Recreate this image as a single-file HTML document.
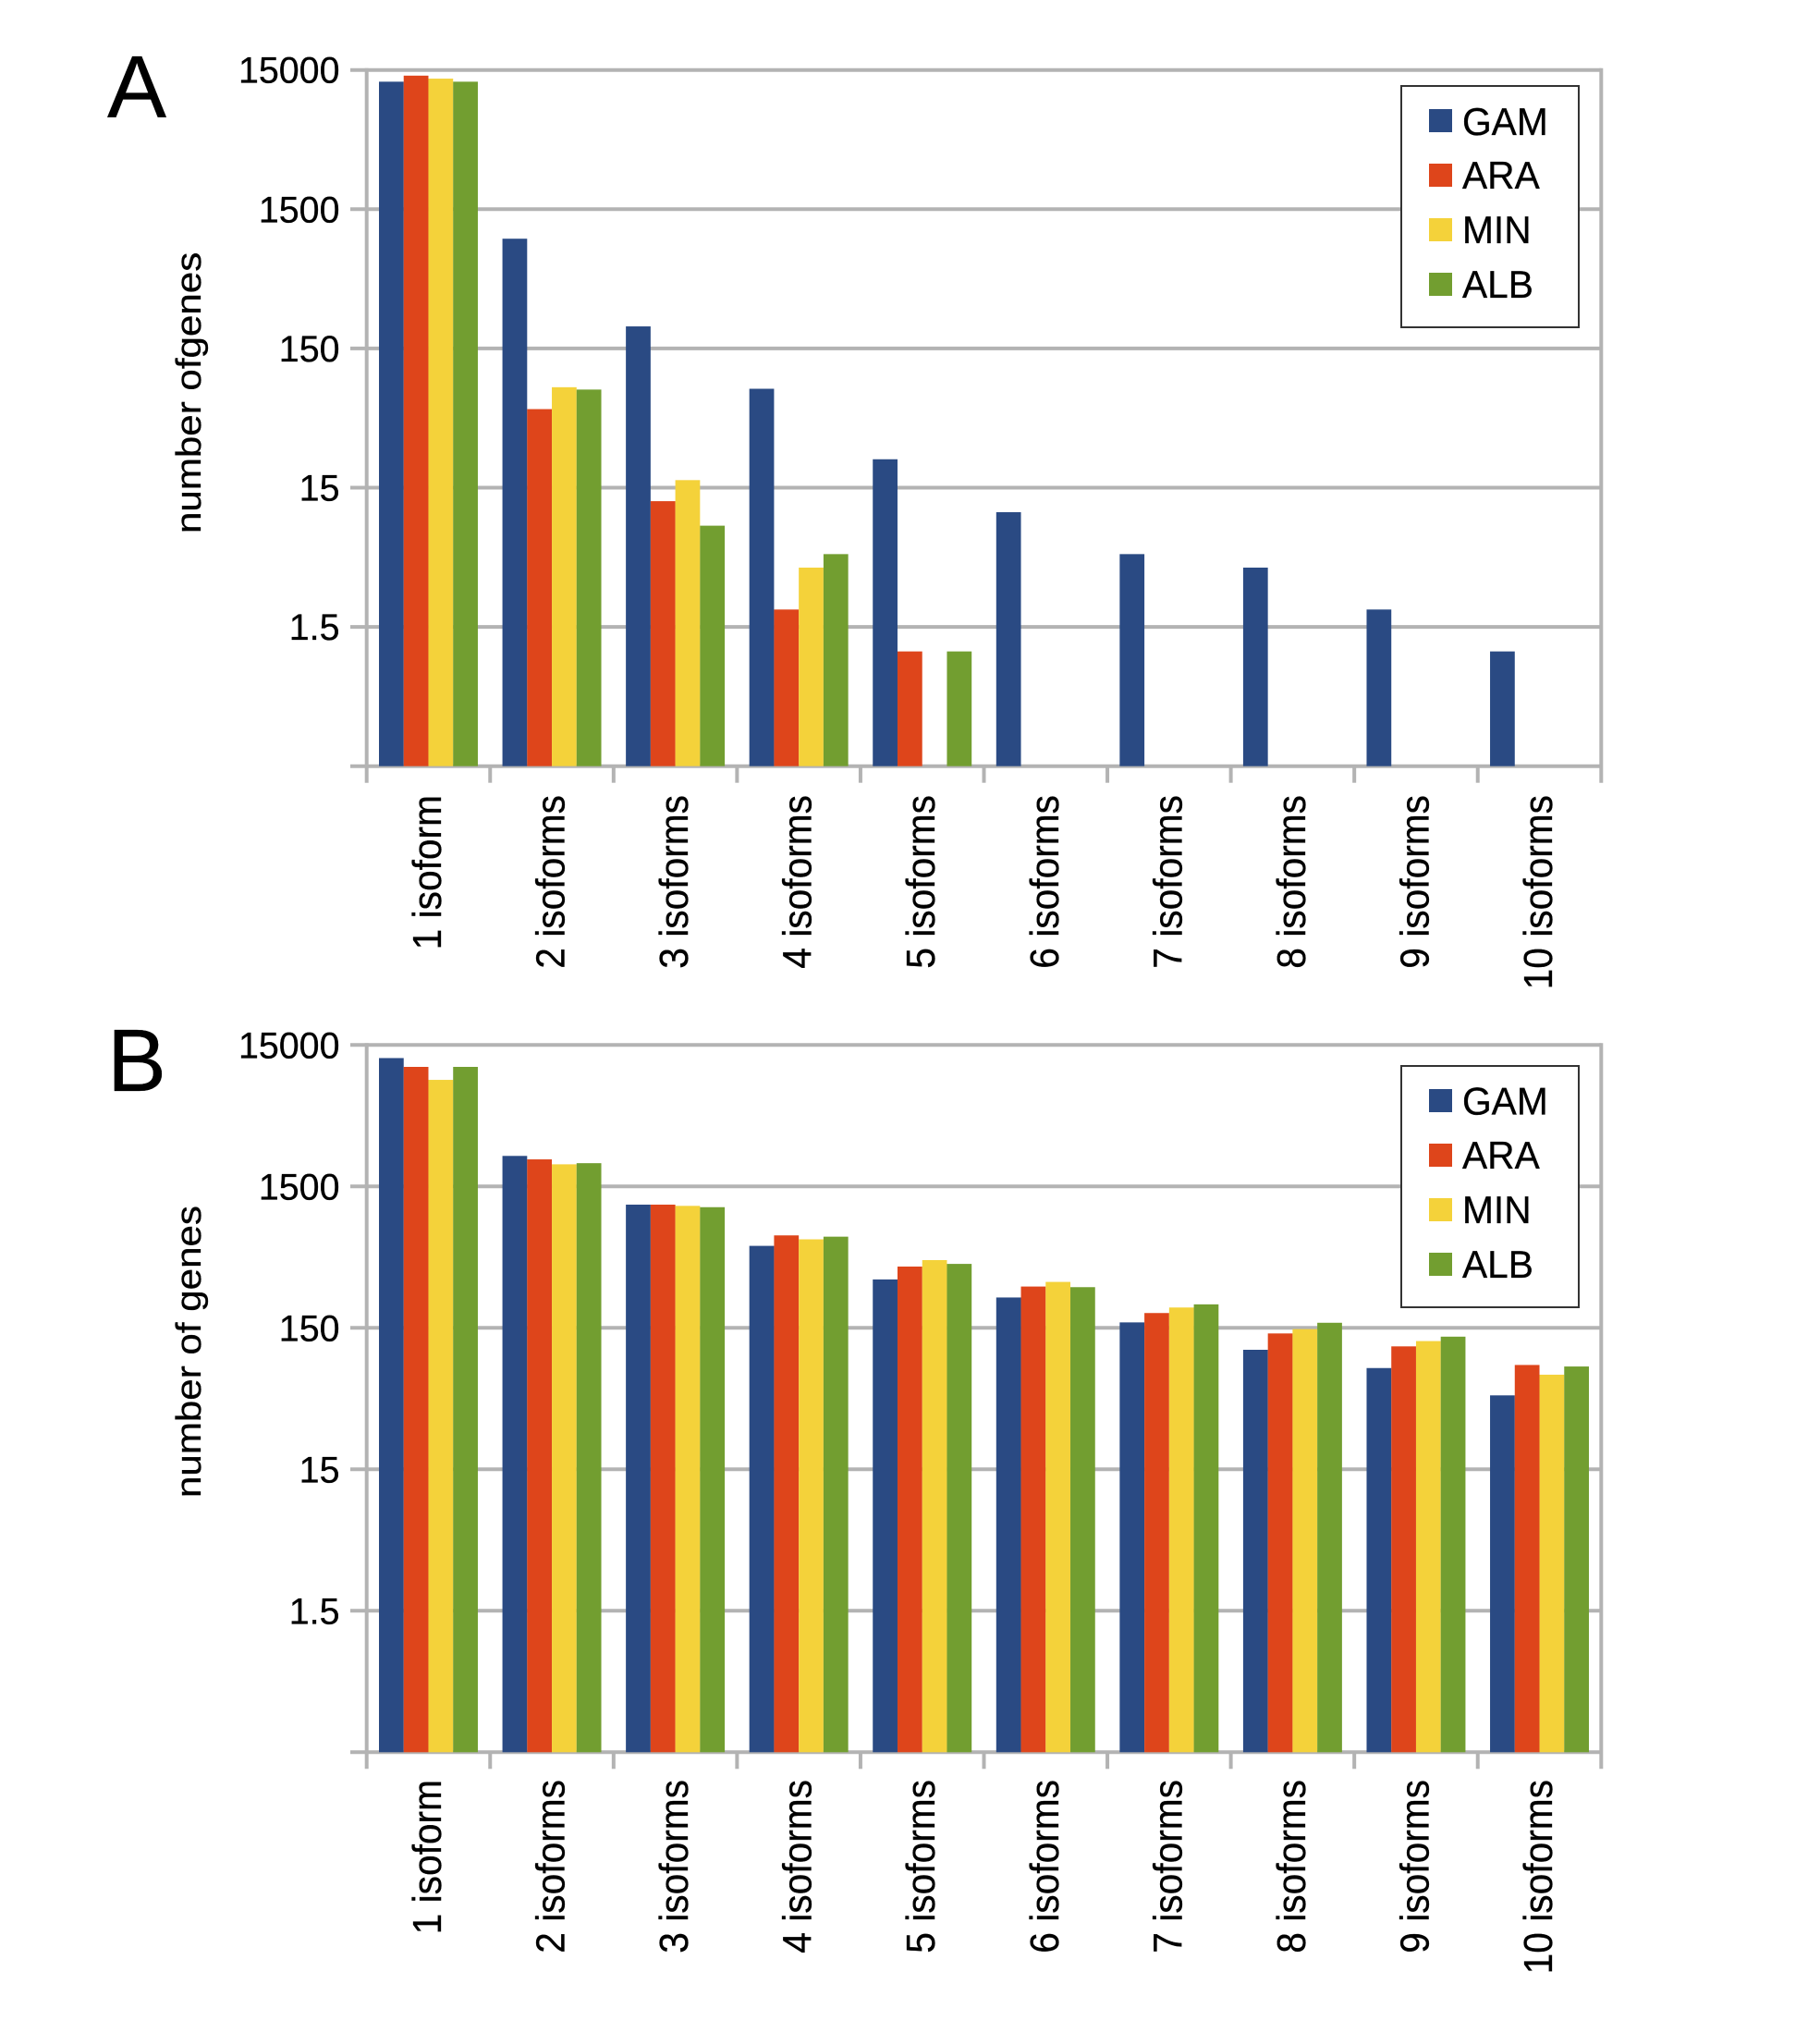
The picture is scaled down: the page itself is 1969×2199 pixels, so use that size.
<!DOCTYPE html>
<html>
<head>
<meta charset="utf-8">
<title>Number of genes per isoform count</title>
<style>
html,body{margin:0;padding:0;background:#fff;}
svg{display:block;}
text{font-family:"Liberation Sans",Arial,sans-serif;fill:#000;stroke:#000;stroke-width:.3px;}
</style>
</head>
<body>
<svg id="figure" xmlns="http://www.w3.org/2000/svg" width="1969" height="2199" viewBox="0 0 1969 2199">
  <rect x="0" y="0" width="1969" height="2199" fill="#ffffff"/>
  <g id="panel-a"></g>
  <g id="panel-b"></g>

  <text x="116" y="127" font-size="96">A</text>
  <text x="116" y="1180" font-size="96">B</text>

  <text transform="translate(217,577) rotate(-90) scale(1.12,1)" font-size="37.6">number ofgenes</text>
  <text transform="translate(217,1620) rotate(-90) scale(1.12,1)" font-size="37.6">number of genes</text>

  <g>
    <rect x="1516" y="93" width="192" height="261" fill="#fff" stroke="#333" stroke-width="2"/>
    <rect x="1546" y="118" width="25" height="25" fill="#2a4a83"/>
    <text transform="translate(1582,146) scale(.97,1)" font-size="42">GAM</text>
    <rect x="1546" y="177" width="25" height="25" fill="#de451b"/>
    <text transform="translate(1582,204) scale(.97,1)" font-size="42">ARA</text>
    <rect x="1546" y="236" width="25" height="25" fill="#f4d23a"/>
    <text transform="translate(1582,263) scale(.97,1)" font-size="42">MIN</text>
    <rect x="1546" y="295" width="25" height="25" fill="#729e30"/>
    <text transform="translate(1582,322) scale(.97,1)" font-size="42">ALB</text>
  </g>

  <g>
    <rect x="1516" y="1153" width="192" height="261" fill="#fff" stroke="#333" stroke-width="2"/>
    <rect x="1546" y="1178" width="25" height="25" fill="#2a4a83"/>
    <text transform="translate(1582,1205.5) scale(.97,1)" font-size="42">GAM</text>
    <rect x="1546" y="1237" width="25" height="25" fill="#de451b"/>
    <text transform="translate(1582,1264) scale(.97,1)" font-size="42">ARA</text>
    <rect x="1546" y="1296" width="25" height="25" fill="#f4d23a"/>
    <text transform="translate(1582,1323) scale(.97,1)" font-size="42">MIN</text>
    <rect x="1546" y="1355" width="25" height="25" fill="#729e30"/>
    <text transform="translate(1582,1382) scale(.97,1)" font-size="42">ALB</text>
  </g>
</svg>

<script>
var categories = ["1 isoform","2 isoforms","3 isoforms","4 isoforms","5 isoforms","6 isoforms","7 isoforms","8 isoforms","9 isoforms","10 isoforms"];
var seriesNames = ["gam","ara","min","alb"];
var tickValues = [15000,1500,150,15,1.5];
var tickLabels = ["15000","1500","150","15","1.5"];
var axisMin = 0.15;
var axisMax = 15000;

var gamA = [12360,921,216,77,24,10,5,4,2,1];
var araA = [13660,55,12,2,1,0,0,0,0,0];
var minA = [13000,79,17,4,0,0,0,0,0,0];
var albA = [12360,76,8,5,1,0,0,0,0,0];

var gamB = [12120,2465,1115,570,330,246,164,105,78,50];
var araB = [10500,2330,1115,676,407,294,191,137,111,82];
var minB = [8500,2150,1093,634,452,317,209,147,121,70];
var albB = [10500,2190,1070,662,425,291,220,163,130,80];

var NS = "http://www.w3.org/2000/svg";
var GRID = "#b3b3b3";
var COLORS = ["#2a4a83","#de451b","#f4d23a","#729e30"];
var PLOT_LEFT = 396.7, PLOT_RIGHT = 1732.3;

function make(tag, attrs, parent) {
  var n = document.createElementNS(NS, tag);
  for (var k in attrs) { n.setAttribute(k, attrs[k]); }
  parent.appendChild(n);
  return n;
}

function drawPanel(root, top, bottom, labelTop, seriesList) {
  var decades = Math.log10(axisMax) - Math.log10(axisMin);
  function yScale(v) {
    return bottom - (Math.log10(v) - Math.log10(axisMin)) / decades * (bottom - top);
  }
  var catW = (PLOT_RIGHT - PLOT_LEFT) / categories.length;
  function xScale(i) { return PLOT_LEFT + i * catW; }
  var pad = 13.3;
  var barW = (catW - 2 * pad) / seriesList.length;
  var tickBottom = bottom + 18;
  var lineW = 4;

  // horizontal gridlines and y tick labels
  tickValues.forEach(function (v, i) {
    var y = yScale(v);
    var line = make("line", {x1: 379, x2: PLOT_RIGHT, y1: y, y2: y, stroke: GRID, "stroke-width": lineW}, root);
    
    
    var t = make("text", {x: 0, y: 0, "font-size": 40, "text-anchor": "end",
      transform: "translate(367.5," + (y + 14) + ") scale(.985,1)"}, root);
    t.textContent = tickLabels[i];
    
    
  });

  // axes
  var base = make("line", {x1: 379, x2: PLOT_RIGHT, y1: bottom, y2: bottom, stroke: GRID, "stroke-width": lineW}, root);
  
  

  var leftAxis = make("line", {x1: PLOT_LEFT, x2: PLOT_LEFT, y1: top - 2, y2: tickBottom, stroke: GRID, "stroke-width": lineW}, root);
  
  

  var rightAxis = make("line", {x1: PLOT_RIGHT, x2: PLOT_RIGHT, y1: top - 2, y2: tickBottom, stroke: GRID, "stroke-width": lineW}, root);
  
  

  // category ticks
  categories.forEach(function (c, i) {
    if (i === 0) { return; }
    var x = xScale(i);
    var tick = make("line", {x1: x, x2: x, y1: bottom, y2: tickBottom, stroke: GRID, "stroke-width": lineW}, root);
    
    
  });

  // bars
  seriesList.forEach(function (values, s) {
    values.forEach(function (v, i) {
      if (!(v > axisMin)) { return; }
      var y = yScale(v);
      var bar = make("rect", {x: xScale(i) + pad + s * barW, y: y, width: barW, height: bottom - y, fill: COLORS[s]}, root);
      
      
    });
  });

  // category labels
  categories.forEach(function (c, i) {
    var cx = xScale(i) + catW / 2;
    var label = make("text", {x: 0, y: 0, "font-size": 44, "text-anchor": "end",
      transform: "translate(" + (cx + 13.5) + "," + labelTop + ") rotate(-90) scale(.925,1)"}, root);
    label.textContent = c;
    
    
  });
}

drawPanel(document.getElementById("panel-a"), 75.7, 828.7, 860, [gamA, araA, minA, albA]);
drawPanel(document.getElementById("panel-b"), 1130.3, 1895.3, 1925, [gamB, araB, minB, albB]);
</script>
</body>
</html>
